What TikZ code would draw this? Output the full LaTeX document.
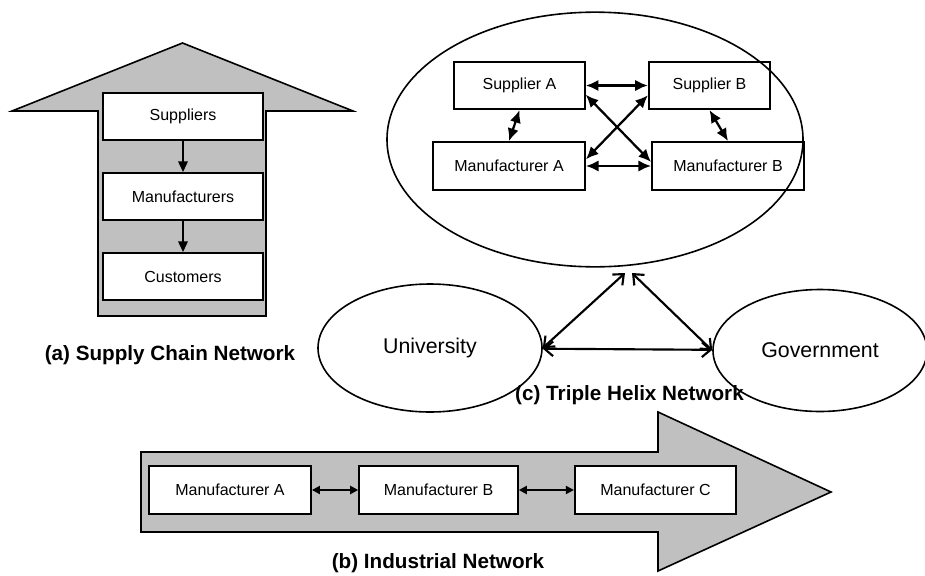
\documentclass[tikz,border=0pt]{standalone}
\usepackage{fontspec}
\setmainfont{Liberation Sans}
\usetikzlibrary{arrows.meta,shapes.geometric}
\definecolor{gris}{RGB}{192,192,192}
\begin{document}
\begin{tikzpicture}[x=0.75pt,y=-0.75pt,>={Triangle[length=8pt,width=7pt]},
    caja/.style={draw,fill=white,line width=1.4pt,inner sep=0pt,minimum height=35.5pt,font=\fontsize{12}{14}\selectfont},
    ovalo/.style={draw,ellipse,line width=1.2pt,inner sep=0pt,font=\fontsize{16}{19}\selectfont},
    titulo/.style={font=\bfseries\fontsize{15.5}{18}\selectfont},
    cruz/.style={line width=1.7pt,{Latex[length=9.5pt,width=8.5pt]}-{Latex[length=9.5pt,width=8.5pt]}},
    abierta/.style={line width=1.6pt,{Straight Barb[length=6.5pt,width=11pt]}-{Straight Barb[length=6.5pt,width=11pt]}}]
  \useasboundingbox (0,0) rectangle (925,575);

  % Flechas grises
  \draw[fill=gris,line width=1.2pt] (12,111) -- (182.5,43) -- (353,111) -- (266,111)
    -- (266,316) -- (98,316) -- (98,111) -- cycle;
  \draw[fill=gris,line width=1.2pt] (141,452) -- (658,452) -- (658,412) -- (831,492)
    -- (658,571) -- (658,532) -- (141,532) -- cycle;

  % (a) Cadena de suministro
  \node[caja,minimum width=120pt] (sup) at (183,116.7) {Suppliers};
  \node[caja,minimum width=120pt] (man) at (183,196.7) {Manufacturers};
  \node[caja,minimum width=120pt] (cust) at (183,276.7) {Customers};
  \draw[->,line width=1.6pt] (sup) -- (man);
  \draw[->,line width=1.6pt] (man) -- (cust);
  \node[titulo] (labA) at (170,355) {(a) Supply Chain Network};

  % (c) Triple hélice
  \node[caja,minimum width=98pt] (supA) at (519.5,85.5) {Supplier A};
  \node[caja,minimum width=91pt] (supB) at (709.5,85.5) {Supplier B};
  \node[caja,minimum width=114pt,minimum height=36pt] (manA) at (509,166) {Manufacturer A};
  \node[caja,minimum width=114pt,minimum height=36pt] (manB) at (728,166) {Manufacturer B};
  \draw[cruz] (supA) -- (supB);
  \draw[cruz] (manA) -- (manB);
  \draw[cruz] (supA.-8) -- (manB.177);
  \draw[cruz] (supB.189) -- (manA.5);
  \draw[cruz] (supA.south) -- (manA.north);
  \draw[cruz] (supB.south) -- (manB.north);
  \node[ovalo,minimum width=312pt,minimum height=191pt] (firms) at (595,139.5) {};
  \node[ovalo,minimum width=168pt,minimum height=96pt] (univ) at (430,348) {University};
  \node[ovalo,minimum width=160.5pt,minimum height=91.5pt] (gov) at (820,350.5) {Government};
  \coordinate (hA) at (625,273);
  \coordinate (hB) at (632,273);
  \draw[abierta] (univ.east) -- (hA);
  \draw[abierta] (hB) -- (gov.west);
  \draw[abierta] (univ) -- (gov);
  \node[titulo] (labC) at (629.5,395) {(c) Triple Helix Network};

  % (b) Red industrial
  \node[caja,minimum width=121.5pt,minimum height=36pt] (indA) at (230,490) {Manufacturer A};
  \node[caja,minimum width=119pt,minimum height=36pt] (indB) at (438.5,490) {Manufacturer B};
  \node[caja,minimum width=121pt,minimum height=36pt] (indC) at (655.5,490) {Manufacturer C};
  \draw[<->,line width=1.4pt,>={Triangle[length=6pt,width=6pt]}] (indA) -- (indB);
  \draw[<->,line width=1.4pt,>={Triangle[length=6pt,width=6pt]}] (indB) -- (indC);
  \node[titulo] (labB) at (438,563) {(b) Industrial Network};
\end{tikzpicture}
\end{document}
